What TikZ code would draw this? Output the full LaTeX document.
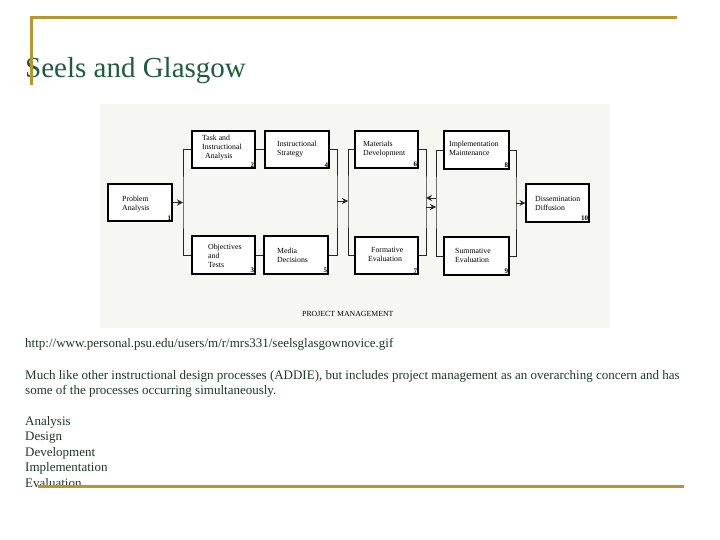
\documentclass[tikz,border=0pt]{standalone}
\usepackage{fontspec}
\setmainfont{Liberation Serif}
\usetikzlibrary{arrows.meta}
\definecolor{gold}{RGB}{185,150,45}
\definecolor{titlegreen}{RGB}{30,92,62}
\definecolor{bodygreen}{RGB}{28,55,42}
\definecolor{scanbg}{RGB}{246,246,243}
\begin{document}
\begin{tikzpicture}[x=1pt,y=-1pt,
  boxst/.style={draw=black, line width=1.1pt, fill=white, inner sep=0pt},
  lbl/.style={anchor=north west, inner sep=0pt, align=left, font=\fontsize{7.8}{9}\selectfont},
  num/.style={anchor=south east, inner sep=1.3pt, font=\fontsize{7}{7}\selectfont\bfseries},
  con/.style={draw=black!85, line width=0.9pt},
  arr/.style={draw=black!85, line width=0.9pt, -{Stealth[length=6pt,width=6pt,inset=2pt]}},
  body/.style={anchor=base west, inner sep=0pt, text=bodygreen, font=\fontsize{13}{15}\selectfont},
  goldline/.style={draw=gold, line width=3pt}
]
\useasboundingbox (0,0) rectangle (720,540);
% scanned diagram background
\fill[scanbg] (100,104) rectangle (610,328);

% boxes
\node[boxst, minimum width=64pt, minimum height=37pt] (b1) at (140,202.5) {};
\node[boxst, minimum width=63pt, minimum height=37pt] (b2) at (223.5,149.5) {};
\node[boxst, minimum width=64pt, minimum height=37pt] (b4) at (297,149.5) {};
\node[boxst, minimum width=63pt, minimum height=38pt] (b3) at (223.5,255) {};
\node[boxst, minimum width=64pt, minimum height=38pt] (b5) at (296,255) {};
\node[boxst, minimum width=63pt, minimum height=37pt] (b6) at (386.5,149.5) {};
\node[boxst, minimum width=63pt, minimum height=37pt] (b7) at (386.5,255.5) {};
\node[boxst, minimum width=65pt, minimum height=38pt] (b8) at (476.5,150) {};
\node[boxst, minimum width=65pt, minimum height=38pt] (b9) at (476.5,256) {};
\node[boxst, minimum width=63pt, minimum height=38pt] (b10) at (557.5,203) {};

% labels
\node[lbl] (t1) at (122,196) {Problem\\Analysis};
\node[lbl] (t2) at (202,135) {Task and\\Instructional\\\hspace{3pt}Analysis};
\node[lbl] (t4) at (277,141) {Instructional\\Strategy};
\node[lbl] (t6) at (363,141) {Materials\\Development};
\node[lbl] (t8) at (449,141) {Implementation\\Maintenance};
\node[lbl] (t10) at (535,196) {Dissemination\\Diffusion};
\node[lbl] (t3) at (208,243.5) {Objectives\\and\\Tests};
\node[lbl] (t5) at (277,248) {Media\\Decisions};
\node[lbl] (t7) at (368,247) {\hspace{3pt}Formative\\Evaluation};
\node[lbl] (t9) at (455,248) {Summative\\Evaluation};

% numbers
\node[num] (n1) at (b1.south east) {1};
\node[num] (n2) at (b2.south east) {2};
\node[num] (n3) at (b3.south east) {3};
\node[num] (n4) at (b4.south east) {4};
\node[num] (n5) at (b5.south east) {5};
\node[num] (n6) at (b6.south east) {6};
\node[num] (n7) at (b7.south east) {7};
\node[num] (n8) at (b8.south east) {8};
\node[num] (n9) at (b9.south east) {9};
\node[num] (n10) at (b10.south east) {10};

% bracket junction points
\coordinate (k1) at (183,202.5);
\coordinate (k2) at (337,201);
\coordinate (k3) at (348,201);
\coordinate (k4) at (426,202);
\coordinate (k5) at (436,202);
\coordinate (k6) at (516,203);
\coordinate (k4a) at (426,198);
\coordinate (k5a) at (436,198);
\coordinate (k4b) at (426,207);
\coordinate (k5b) at (436,207);

% connectors
\draw[con] (b2.west) -| (k1) |- (b3.west);
\draw[con] (b2.east) -- (b4.west);
\draw[con] (b3.east) -- (b5.west);
\draw[con] (b4.east) -| (k2) |- (b5.east);
\draw[con] (b6.west) -| (k3) |- (b7.west);
\draw[con] (b6.east) -| (k4) |- (b7.east);
\draw[con] (b8.west) -| (k5) |- (b9.west);
\draw[con] (b8.east) -| (k6) |- (b9.east);

\draw[arr] (b1.east) -- (k1);
\draw[arr] (k2) -- (k3);
\draw[arr] (k5a) -- (k4a);
\draw[arr] (k4b) -- (k5b);
\draw[arr] (k6) -- (b10.west);

\node[anchor=west, inner sep=0pt, font=\fontsize{7.8}{8}\selectfont] (pm) at (302,314) {PROJECT MANAGEMENT};

% slide text
\node[anchor=base west, inner sep=0pt, text=titlegreen, font=\fontsize{29}{32}\selectfont] (title) at (25,78) {Seels and Glasgow};
\node[body] (url) at (25,347) {http://www.personal.psu.edu/users/m/r/mrs331/seelsglasgownovice.gif};
\node[body] (p1) at (25,379) {Much like other instructional design processes (ADDIE), but includes project management as an overarching concern and has};
\node[body] (p2) at (25,394) {some of the processes occurring simultaneously.};
\node[body] (l1) at (25,425) {Analysis};
\node[body] (l2) at (25,440.5) {Design};
\node[body] (l3) at (25,456) {Development};
\node[body] (l4) at (25,471.5) {Implementation};
\node[body] (l5) at (25,487) {Evaluation};

% slide frame lines
\draw[goldline] (30,18) -- (677,18);
\draw[goldline] (31,16.5) -- (31,85);
\draw[goldline] (38,486) -- (684,486);
\end{tikzpicture}
\end{document}
